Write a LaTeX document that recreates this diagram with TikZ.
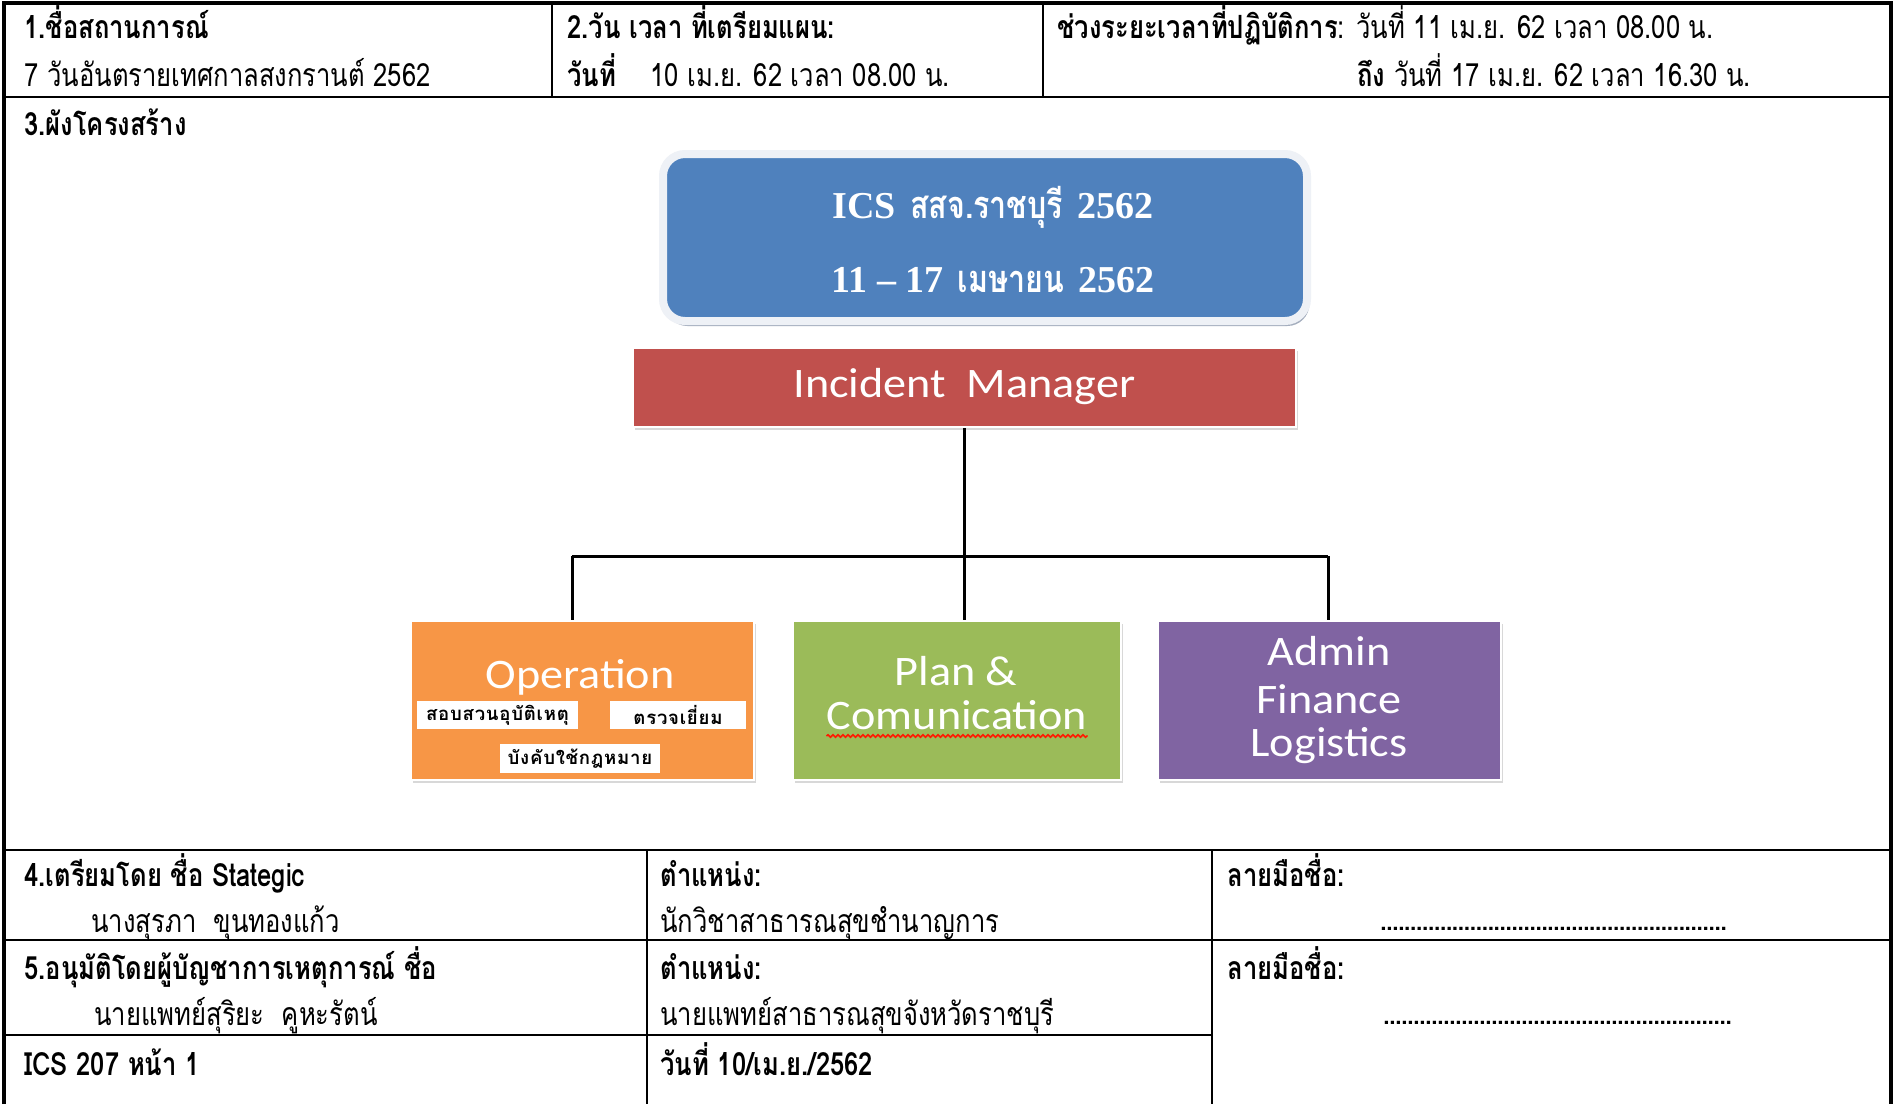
\documentclass[tikz,border=0pt]{standalone}
\usepackage{fontspec}
\usetikzlibrary{shadows,decorations.pathmorphing,calc}
\newfontfamily\thai[Script=Thai,FakeStretch=0.8]{Loma}
\newfontfamily\thaisub[Script=Thai,LetterSpace=4]{Loma}
\newfontfamily\serifb{Liberation Serif}
\newfontfamily\boxf[FakeStretch=1.1]{Carlito}
\definecolor{icsblue}{HTML}{4F81BD}
\definecolor{icsred}{HTML}{C0504D}
\definecolor{icsorange}{HTML}{F79646}
\definecolor{icsgreen}{HTML}{9BBB59}
\definecolor{icspurple}{HTML}{8064A2}
\definecolor{rimgray}{HTML}{EEF1F6}
\definecolor{shadowblue}{HTML}{8E9AAE}
\tikzset{
  tablerule/.style={line width=1.25pt,black},
  outerrule/.style={line width=1.6pt,black},
  txt/.style={anchor=base west,inner sep=0,font=\thai\fontsize{16}{19}\selectfont},
  txtb/.style={anchor=base west,inner sep=0,font=\thai\bfseries\fontsize{16}{19}\selectfont},
  titlebox/.style={rectangle,rounded corners=11pt,fill=icsblue,draw=rimgray,line width=4pt,
    minimum width=322pt,minimum height=83.5pt,inner sep=0,
    drop shadow={shadow xshift=1.2pt,shadow yshift=-2.5pt,fill=shadowblue,opacity=.8}},
  titletext/.style={anchor=base,inner sep=0,text=white,font=\bfseries\fontsize{19}{22}\selectfont},
  orgbox/.style={rectangle,draw=white,line width=1pt,minimum height=79.5pt,inner sep=0,
    drop shadow={shadow xshift=1.2pt,shadow yshift=-1.5pt,opacity=.3}},
  boxtext/.style={anchor=base,inner sep=0,text=white,font=\boxf\fontsize{21}{25}\selectfont},
  sublabel/.style={rectangle,fill=white,inner sep=0,text=black,font=\thaisub\bfseries\fontsize{9.3}{10}\selectfont},
  link/.style={line width=1.5pt,black},
  dotsline/.style={anchor=base west,inner sep=0,font=\thai\bfseries\fontsize{15}{16}\selectfont}
}
\begin{document}
\begin{tikzpicture}[x=0.5pt,y=-0.5pt]
\useasboundingbox (0,0) rectangle (1895,1104);
\fill[white] (0,0) rectangle (1895,1104);
% ---------- table rules ----------
\draw[outerrule] (4,1104) -- (4,3) -- (1891,3) -- (1891,1104);
\draw[tablerule] (4,97) -- (1891,97);
\draw[tablerule] (552,3) -- (552,97);
\draw[tablerule] (1043,3) -- (1043,97);
\draw[tablerule] (4,850) -- (1891,850);
\draw[tablerule] (4,940) -- (1891,940);
\draw[tablerule] (4,1035) -- (1212,1035);
\draw[tablerule] (647,850) -- (647,1104);
\draw[tablerule] (1212,850) -- (1212,1104);
% ---------- row 1 ----------
\node[txtb] (h1) at (24,38) {1.ชื่อสถานการณ์};
\node[txt] (v1) at (24,86) {7 วันอันตรายเทศกาลสงกรานต์ 2562};
\node[txtb] (h2) at (567,38) {2.วัน เวลา ที่เตรียมแผน:};
\node[txtb] (v2a) at (567,86) {วันที่};
\node[txt] (v2b) at (650,86) {10 เม.ย. 62 เวลา 08.00 น.};
\node[txt] (h3) at (1057,38) {{\bfseries ช่วงระยะเวลาที่ปฏิบัติการ}: วันที่ 11 เม.ย. 62 เวลา 08.00 น.};
\node[txt] (v3) at (1357,86) {{\bfseries ถึง} วันที่ 17 เม.ย. 62 เวลา 16.30 น.};
\node[txtb] (h4) at (24,135) {3.ผังโครงสร้าง};
% ---------- org chart ----------
\node[titlebox] (ics) at (985,237.5) {};
\node[titletext] (ics1) at (993,218) {{\serifb ICS} {\thai สสจ.ราชบุรี} {\serifb 2562}};
\node[titletext] (ics2) at (993,292) {{\serifb 11 – 17} {\thai เมษายน} {\serifb 2562}};
\node[orgbox,fill=icsred,minimum width=331.5pt,minimum height=39.5pt] (im) at (964.5,387.5) {};
\node[boxtext] (imt) at (964.5,397) {Incident\ \ Manager};
\node[orgbox,fill=icsorange,minimum width=171.5pt] (op) at (582.5,700.5) {};
\node[orgbox,fill=icsgreen,minimum width=164pt] (pc) at (957,700.5) {};
\node[orgbox,fill=icspurple,minimum width=171.5pt] (af) at (1329.5,700.5) {};
\node[boxtext] (opt) at (580,688) {Operation};
\node[sublabel,minimum width=80.5pt,minimum height=14pt] (s1) at (497.5,715) {สอบสวนอุบัติเหตุ};
\node[sublabel,minimum width=68pt,minimum height=14pt] (s2) at (678,715) {ตรวจเยี่ยม};
\node[sublabel,minimum width=80pt,minimum height=14.5pt] (s3) at (580,758.5) {บังคับใช้กฎหมาย};
\node[boxtext] (pct1) at (956,685) {Plan \&};
\node[boxtext] (pct2) at (957,729) {Comunication};
\coordinate (wv1) at ($(pct2.base west)+(0,7)$);
\coordinate (wv2) at ($(pct2.base east)+(0,7)$);
\draw[red!80!orange,line width=0.8pt,decorate,decoration={snake,amplitude=0.6pt,segment length=2.5pt}] (wv1) -- (wv2);
\node[boxtext] (aft1) at (1329,665) {Admin};
\node[boxtext] (aft2) at (1329,713) {Finance};
\node[boxtext] (aft3) at (1329,756) {Logistics};
% ---------- connectors ----------
\coordinate (bus) at (964.5,556);
\coordinate (busL) at (572,556);
\coordinate (busR) at (1328,556);
\draw[link] (im.south) -- (bus);
\draw[link] (busL) -- (busR);
\draw[link] (busL) -- (busL |- op.north);
\draw[link] (bus) -- (bus |- pc.north);
\draw[link] (busR) -- (busR |- af.north);
% ---------- bottom rows ----------
\node[txtb] (p1) at (24,886) {4.เตรียมโดย ชื่อ Stategic};
\node[txt] (p2) at (91,932) {นางสุรภา\ \ ขุนทองแก้ว};
\node[txtb] (p3) at (660,886) {ตำแหน่ง:};
\node[txt] (p4) at (660,932) {นักวิชาสาธารณสุขชำนาญการ};
\node[txtb] (p5) at (1227,886) {ลายมือชื่อ:};
\node[dotsline] (p6) at (1380,930) {\hbox to 173pt{\xleaders\hbox to 2.95pt{\hss.\hss}\hfill}};
\node[txtb] (a1) at (24,979) {5.อนุมัติโดยผู้บัญชาการเหตุการณ์ ชื่อ};
\node[txt] (a2) at (94,1025) {นายแพทย์สุริยะ\ \ คูหะรัตน์};
\node[txtb] (a3) at (660,979) {ตำแหน่ง:};
\node[txt] (a4) at (660,1025) {นายแพทย์สาธารณสุขจังหวัดราชบุรี};
\node[txtb] (a5) at (1227,979) {ลายมือชื่อ:};
\node[dotsline] (a6) at (1383,1024) {\hbox to 174pt{\xleaders\hbox to 2.95pt{\hss.\hss}\hfill}};
\node[txtb] (f1) at (24,1075) {ICS 207 หน้า 1};
\node[txtb] (f2) at (660,1075) {วันที่ 10/เม.ย./2562};
\end{tikzpicture}
\end{document}
